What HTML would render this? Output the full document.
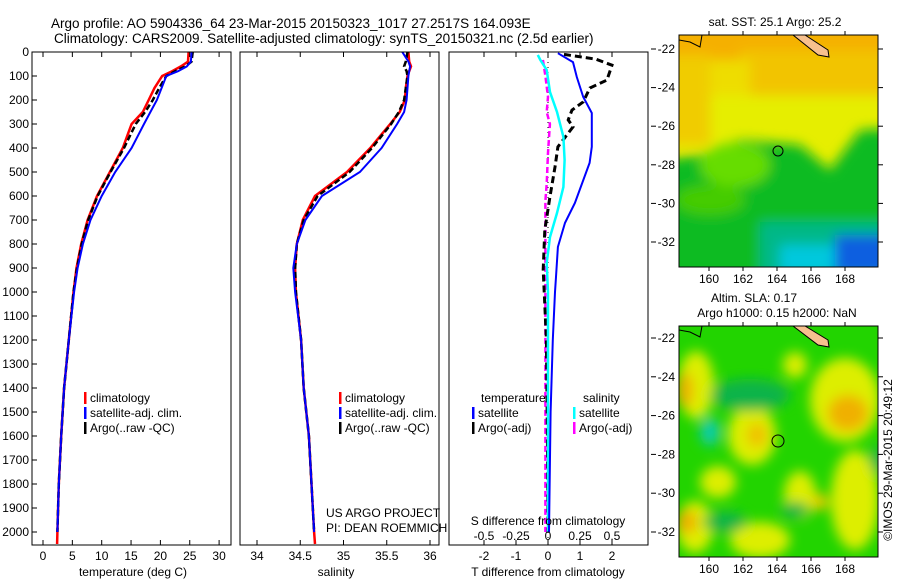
<!DOCTYPE html>
<html><head><meta charset="utf-8"><style>
html,body{margin:0;padding:0;background:#fff;}
svg{display:block;font-family:"Liberation Sans",sans-serif;}
</style></head><body>
<svg id="fig" width="900" height="580" viewBox="0 0 900 580" xmlns="http://www.w3.org/2000/svg">
<defs>
<filter id="bl" x="-50%" y="-50%" width="200%" height="200%"><feGaussianBlur stdDeviation="6"/></filter>
<clipPath id="c1"><rect x="679" y="35" width="199" height="232"/></clipPath>
<clipPath id="c2"><rect x="679" y="326" width="199" height="231"/></clipPath>
</defs>
<text x="51" y="28" font-size="13.5">Argo profile: AO 5904336_64 23-Mar-2015 20150323_1017 27.2517S 164.093E</text>
<text x="54" y="43" font-size="13.5">Climatology: CARS2009. Satellite-adjusted climatology: synTS_20150321.nc (2.5d earlier)</text>

<g>
<text x="775" y="26" font-size="12" text-anchor="middle">sat. SST: 25.1 Argo: 25.2</text>
<g clip-path="url(#c1)">
<rect x="679" y="35" width="199" height="232" fill="#e6ee00"/>
<g filter="url(#bl)">
<rect x="660" y="20" width="240" height="40" fill="#f5b000"/>
<rect x="740" y="50" width="160" height="45" fill="#f2c400"/>
<rect x="660" y="55" width="50" height="90" fill="#f0cc00"/>
<rect x="710" y="60" width="40" height="35" fill="#eedd00"/>
<path d="M660 160 L700 155 L740 140 L800 145 L830 170 L860 130 L900 128 L900 300 L660 300Z" fill="#11bb22"/>
<ellipse cx="735" cy="165" rx="35" ry="22" fill="#66dd00"/>
<ellipse cx="710" cy="200" rx="35" ry="15" fill="#44cc00"/>
<rect x="760" y="222" width="140" height="60" fill="#00b888"/>
<rect x="780" y="245" width="80" height="30" fill="#00c8dd"/>
<rect x="835" y="235" width="60" height="40" fill="#0a5ee0"/>
</g>
<path d="M793 35 L805 35 L828 50 L829 57 L818 55 Z" fill="#f7c08e" stroke="#000" stroke-width="1"/>
<path d="M679 40 L690 42 L700 47 L702 35" fill="none" stroke="#000"/>
</g>
<rect x="679" y="35" width="199" height="232" fill="none" stroke="#000"/>
<circle cx="778" cy="151" r="5" fill="none" stroke="#000"/>
</g>

<g>
<text x="754" y="302" font-size="12" text-anchor="middle">Altim. SLA: 0.17</text>
<text x="777" y="317" font-size="12" text-anchor="middle">Argo h1000: 0.15 h2000: NaN</text>
<g clip-path="url(#c2)">
<rect x="679" y="326" width="199" height="231" fill="#22d400"/>
<g filter="url(#bl)">
<ellipse cx="696" cy="385" rx="18" ry="34" fill="#ddee00"/>
<ellipse cx="752" cy="435" rx="24" ry="30" fill="#ddee00"/>
<ellipse cx="845" cy="400" rx="35" ry="42" fill="#ddee00"/>
<ellipse cx="695" cy="527" rx="18" ry="26" fill="#ddee00"/>
<ellipse cx="760" cy="540" rx="30" ry="18" fill="#ddee00"/>
<ellipse cx="718" cy="482" rx="18" ry="16" fill="#ddee00"/>
<ellipse cx="800" cy="495" rx="16" ry="24" fill="#ddee00"/>
<ellipse cx="855" cy="500" rx="24" ry="50" fill="#ddee00"/>
<ellipse cx="795" cy="365" rx="12" ry="13" fill="#ddee00"/>
<ellipse cx="685" cy="390" rx="8" ry="18" fill="#f0b000"/>
<ellipse cx="757" cy="435" rx="10" ry="12" fill="#f0c000"/>
<ellipse cx="848" cy="413" rx="20" ry="18" fill="#f0b000"/>
<ellipse cx="687" cy="522" rx="10" ry="12" fill="#f0b000"/>
<ellipse cx="820" cy="502" rx="8" ry="8" fill="#f0c800"/>
<ellipse cx="750" cy="395" rx="40" ry="16" fill="#11b44a"/>
<ellipse cx="710" cy="432" rx="10" ry="14" fill="#11ccaa"/>
<ellipse cx="725" cy="522" rx="22" ry="10" fill="#11b44a"/>
<ellipse cx="795" cy="510" rx="14" ry="8" fill="#11b44a"/>
<ellipse cx="878" cy="460" rx="8" ry="14" fill="#11b44a"/>
</g>
<path d="M793 326 L805 326 L828 340 L829 347 L818 345 Z" fill="#f7c08e" stroke="#000" stroke-width="1"/>
<path d="M679 330 L690 332 L700 337 L702 326" fill="none" stroke="#000"/>
</g>
<rect x="679" y="326" width="199" height="231" fill="none" stroke="#000"/>
<circle cx="778" cy="441" r="6" fill="none" stroke="#000"/>
<text transform="translate(892,460) rotate(-90)" font-size="12" text-anchor="middle">©IMOS 29-Mar-2015 20:49:12</text>
</g>

<text x="326" y="517" font-size="12">US ARGO PROJECT</text>
<text x="326" y="532" font-size="12">PI: DEAN ROEMMICH</text>
<g id="plots"></g>
</svg>
<script>
const depthLevels = [0,40,60,80,100,150,200,250,300,400,500,600,700,800,900,1000,1200,1400,1600,1800,2000,2050];
const tempClim = [24.8,24.7,23.5,22,20.3,19,18,17,15.1,13.6,11.4,9.2,7.6,6.5,5.7,5.2,4.4,3.6,3.1,2.7,2.45,2.4];
const tempSat = [25.3,25.2,24.5,23,21,20.2,19.4,18.3,17.2,15.1,12.3,10,8.1,6.8,5.9,5.3,4.4,3.6,3.1,2.7,2.45];
const tempArgo = [25.5,25.3,24.3,22.5,21,19.8,18.7,17.4,15.8,13.8,11.5,9.3,7.7,6.6,5.8,5.2,4.4,3.6,3.1,2.7,2.45];
const salClim = [35.75,35.76,35.78,35.76,35.74,35.72,35.71,35.65,35.54,35.31,35.04,34.67,34.53,34.46,34.44,34.45,34.51,34.54,34.6,34.63,34.66,34.67];
const salSat = [35.68,35.75,35.77,35.76,35.75,35.74,35.73,35.7,35.62,35.44,35.19,34.75,34.56,34.46,34.42,34.44,34.51,34.54,34.6,34.63,34.66];
const salArgo = [35.74,35.72,35.7,35.73,35.74,35.72,35.7,35.64,35.55,35.33,35.07,34.7,34.54,34.46,34.44,34.45,34.51,34.54,34.6,34.63,34.66];
const satTDepth = [5,42,104,187,254,395,462,629,712,812,937,1000,1200,1500,2000];
const satTDiff = [0.31,0.78,0.9,1.1,1.37,1.37,1.3,0.84,0.53,0.31,0.25,0.22,0.15,0.08,0.03];
const satSDepth = [12,33,75,167,250,354,450,562,671,771,879,1000,1500,2000];
const satSDiff = [-0.08,-0.06,-0.01,0.016,0.07,0.12,0.13,0.12,0.07,0.016,-0.01,0,0,0];
const argoTDepth = [10,30,55,117,150,208,242,283,312,395,479,604,742,908,1200,1600,2000];
const argoTDiff = [0.5,1.5,2.0,1.84,1.31,1.1,0.75,0.63,0.78,0.31,0.22,0.06,-0.1,-0.15,-0.05,-0.02,0];
const argoSDepth = [33,100,187,250,300,420,550,620,800,1200,2000];
const argoSDiff = [-0.04,-0.02,0,-0.01,0.015,0,-0.01,-0.02,-0.02,-0.02,-0.02];
const depthTicks = [0,100,200,300,400,500,600,700,800,900,1000,1100,1200,1300,1400,1500,1600,1700,1800,1900,2000];
const tempTicks = [0,5,10,15,20,25,30];
const salTicks = [34,34.5,35,35.5,36];
const salTickLabels = ["34","34.5","35","35.5","36"];
const tdTicks = [-2,-1,0,1,2];
const sdTicks = [-0.5,-0.25,0,0.25,0.5];
const sdTickLabels = ["-0.5","-0.25","0","0.25","0.5"];
const lonTicks = [160,162,164,166,168];
const latTicks = [-22,-24,-26,-28,-30,-32];

const NS='http://www.w3.org/2000/svg';
const G=document.getElementById('plots');
function mk(tag,attrs,parent){const e=document.createElementNS(NS,tag);for(const k in attrs)e.setAttribute(k,attrs[k]);(parent||G).appendChild(e);return e;}
const Y0=52, Y1=545;
const yD=d=>Y0+d*0.24;
const xT=v=>43+v*5.87;
const xS=v=>257+(v-34)*86.5;
const xTD=v=>548+v*32;
const xSD=v=>548+v*128;
function line(xs,ds,sx,color,w,name,dash){
  let p='';for(let i=0;i<xs.length;i++)p+=(i?'L':'M')+sx(xs[i]).toFixed(1)+' '+yD(ds[i]).toFixed(1);
  const e=mk('path',{d:p,fill:'none',stroke:color,'stroke-width':w});
  if(dash)e.setAttribute('stroke-dasharray',dash);
  
  
}
function txt(x,y,s,anchor,name,size){const e=mk('text',{x:x,y:y,'font-size':size||12,'text-anchor':anchor||'start'});e.textContent=s;
  
  return e;}
function frame(x0,x1,name){const e=mk('rect',{x:x0,y:Y0,width:x1-x0,height:Y1-Y0,fill:'none',stroke:'#000'});
  
  }
function xticks(vals,sx,labels,ly,name){vals.forEach((v,i)=>{const x=sx(v);
  mk('line',{x1:x,x2:x,y1:Y1,y2:Y1-5,stroke:'#000'});mk('line',{x1:x,x2:x,y1:Y0,y2:Y0+5,stroke:'#000'});
  if(labels)txt(x,ly,labels[i],'middle',name);});}
depthTicks.forEach(d=>{mk('line',{x1:32,x2:37,y1:yD(d),y2:yD(d),stroke:'#000'});txt(29,yD(d)+4,String(d),'end','depth-tick-label');});
line(tempClim,depthLevels,xT,'#ff0000',2.5,'temp-climatology-line');
line(tempArgo,depthLevels.slice(0,tempArgo.length),xT,'#000',2.5,'temp-argo-line','6 3');
line(tempSat,depthLevels.slice(0,tempSat.length),xT,'#0000ff',2,'temp-satellite-line');
frame(32,231,'temperature-panel');
xticks(tempTicks,xT,tempTicks.map(String),560,'temp-tick-label');
txt(133,576,'temperature (deg C)','middle','temp-axis-title');
line(salClim,depthLevels,xS,'#ff0000',2.5,'sal-climatology-line');
line(salArgo,depthLevels.slice(0,salArgo.length),xS,'#000',2.5,'sal-argo-line','6 3');
line(salSat,depthLevels.slice(0,salSat.length),xS,'#0000ff',2,'sal-satellite-line');
frame(240,439,'salinity-panel');
xticks(salTicks,xS,salTickLabels,560,'sal-tick-label');
txt(336,576,'salinity','middle','sal-axis-title');
mk('line',{x1:xTD(0),x2:xTD(0),y1:Y0,y2:Y1,stroke:'#000','stroke-dasharray':'1 4'});
line(argoSDiff,argoSDepth,xSD,'#ff00ff',2.5,'sdiff-argo-line','6 3');
line(argoTDiff,argoTDepth,xTD,'#000',3,'tdiff-argo-line','7 4');
line(satSDiff,satSDepth,xSD,'#00ffff',2.5,'sdiff-satellite-line');
line(satTDiff,satTDepth,xTD,'#0000ff',2,'tdiff-satellite-line');
frame(449,648,'difference-panel');
xticks(tdTicks,xTD,tdTicks.map(String),560,'tdiff-tick-label');
txt(548,576,'T difference from climatology','middle','tdiff-axis-title');
txt(548,525,'S difference from climatology','middle','sdiff-axis-title');
sdTicks.forEach((v,i)=>txt(xSD(v),540,sdTickLabels[i],'middle','sdiff-tick-label'));
function leg(x,y,c,s,n){const r=mk('rect',{x:x,y:y-10,width:2.5,height:12,fill:c});txt(x+6,y,s,'start',n);}
[[84,'#ff0000','climatology'],[84,'#0000ff','satellite-adj. clim.'],[84,'#000','Argo(..raw -QC)']].forEach((a,i)=>leg(a[0],402+i*15,a[1],a[2],'temp-legend-entry'));
[[339,'#ff0000','climatology'],[339,'#0000ff','satellite-adj. clim.'],[339,'#000','Argo(..raw -QC)']].forEach((a,i)=>leg(a[0],402+i*15,a[1],a[2],'sal-legend-entry'));
txt(481,402,'temperature','start','diff-legend-temp-header');
txt(583,402,'salinity','start','diff-legend-sal-header');
leg(472,417,'#0000ff','satellite','diff-legend-entry');
leg(472,432,'#000','Argo(-adj)','diff-legend-entry');
leg(573,417,'#00ffff','satellite','diff-legend-entry');
leg(573,432,'#ff00ff','Argo(-adj)','diff-legend-entry');
const lonX=v=>709+(v-160)*17;
function mapAxes(top,bot,latY,pre){
  lonTicks.forEach(v=>{const x=lonX(v);mk('line',{x1:x,x2:x,y1:top,y2:top-4,stroke:'#000'});mk('line',{x1:x,x2:x,y1:bot,y2:bot+4,stroke:'#000'});txt(x,bot+16,String(v),'middle',pre+'-lon-label');});
  latTicks.forEach(v=>{const y=latY(v);mk('line',{x1:651,x2:656,y1:y,y2:y,stroke:'#000'});mk('line',{x1:878,x2:883,y1:y,y2:y,stroke:'#000'});txt(675,y+4,String(v),'end',pre+'-lat-label');});
}
mapAxes(35,267,v=>49+(-22-v)*19.3,'sst-map');
mapAxes(326,557,v=>338+(-22-v)*19.4,'sla-map');
</script>
</body></html>
